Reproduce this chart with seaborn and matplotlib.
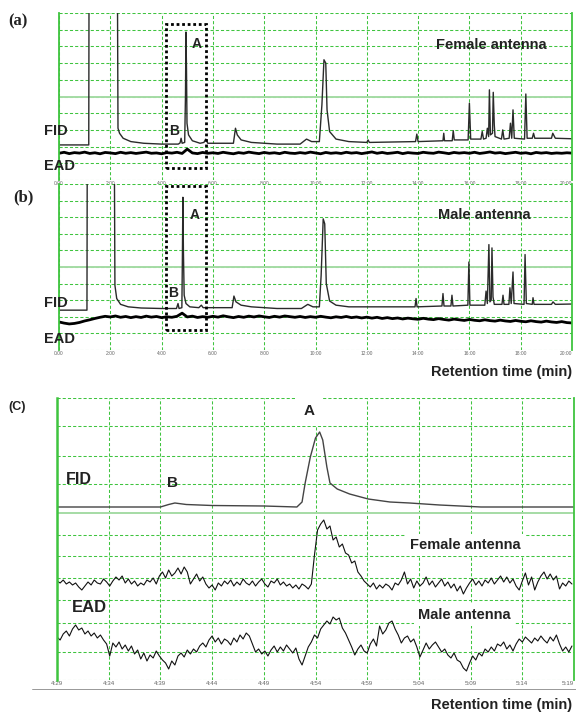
import numpy as np
import pandas as pd
import seaborn as sns
import matplotlib.pyplot as plt
from matplotlib.patches import Rectangle
from matplotlib.lines import Line2D

# ---- datos ----
# (a) antena hembra: FID (tiempo en min, senal en unidades de rejilla)
fid_a_time = [0.0, 1.16, 1.17, 2.28, 2.30, 2.36, 2.5, 2.8, 3.3, 4.0, 4.65, 4.72, 4.76, 4.80,
              4.90, 4.93, 4.95, 4.97, 4.99, 5.05, 5.2, 5.5, 5.65, 5.72, 5.8, 6.8, 6.88, 6.95,
              7.1, 7.5, 8.5, 9.4, 9.65, 9.85, 10.15, 10.25, 10.33, 10.4, 10.45, 10.55, 10.8,
              11.3, 12.0, 12.05, 12.1, 13.9, 13.95, 14.0, 14.97, 15.0, 15.03, 15.33, 15.37,
              15.41, 15.95, 16.0, 16.05, 16.45, 16.5, 16.55, 16.65, 16.7, 16.75, 16.78, 16.82,
              16.9, 16.93, 16.97, 17.0, 17.25, 17.3, 17.35, 17.55, 17.6, 17.65, 17.7, 17.75,
              18.15, 18.2, 18.25, 18.45, 18.5, 18.55, 19.2, 19.25, 19.35, 20.0]
fid_a_signal = [2.10, 2.10, 11.0, 11.0, 3.1, 2.8, 2.5, 2.3, 2.2, 2.15, 2.15, 2.22, 2.50, 2.20,
                2.25, 5.0, 8.86, 6.7, 3.4, 2.7, 2.35, 2.2, 2.25, 2.45, 2.2, 2.2, 3.1, 2.7,
                2.4, 2.25, 2.15, 2.15, 2.45, 2.3, 2.3, 4.5, 7.2, 7.0, 4.2, 2.9, 2.45,
                2.3, 2.25, 2.4, 2.25, 2.3, 2.75, 2.3, 2.35, 2.8, 2.35, 2.35, 2.95,
                2.4, 2.4, 4.6, 2.45, 2.45, 2.9, 2.45, 2.5, 3.1, 2.6, 5.4, 2.7,
                2.8, 5.25, 3.3, 2.6, 2.45, 3.0, 2.45, 2.5, 3.4, 2.5, 4.2, 2.5,
                2.45, 5.15, 2.5, 2.5, 2.8, 2.5, 2.5, 2.8, 2.5, 2.47]
# EAD (a), una muestra cada 0.2 min
ead_a_signal = [1.60, 1.66, 1.58, 1.64, 1.61, 1.67, 1.59, 1.63, 1.57, 1.65,
                1.62, 1.58, 1.66, 1.60, 1.64, 1.59, 1.63, 1.67, 1.60, 1.62,
                1.57, 1.64, 1.61, 1.66, 1.59, 1.85, 1.62, 1.58, 1.65, 1.60,
                1.63, 1.59, 1.66, 1.61, 1.57, 1.64, 1.60, 1.67, 1.62, 1.58,
                1.65, 1.60, 1.63, 1.58, 1.66, 1.61, 1.59, 1.64, 1.60, 1.67,
                1.62, 1.57, 1.65, 1.60, 1.63, 1.59, 1.66, 1.61, 1.64, 1.58,
                1.63, 1.68, 1.60, 1.65, 1.59, 1.62, 1.66, 1.58, 1.64, 1.61,
                1.59, 1.66, 1.62, 1.60, 1.67, 1.63, 1.58, 1.65, 1.61, 1.64,
                1.60, 1.66, 1.59, 1.63, 1.68, 1.61, 1.64, 1.58, 1.62, 1.66,
                1.60, 1.63, 1.57, 1.65, 1.61, 1.64, 1.59, 1.62, 1.60, 1.63, 1.61]

# (b) antena macho
fid_b_time = [0.0, 1.09, 1.10, 2.16, 2.18, 2.25, 2.4, 2.7, 3.2, 4.0, 4.58, 4.64, 4.68, 4.79,
              4.81, 4.83, 4.85, 4.88, 4.95, 5.1, 5.45, 5.55, 5.62, 6.75, 6.82, 6.9, 7.1, 7.5,
              8.5, 9.45, 9.7, 9.9, 10.15, 10.22, 10.3, 10.36, 10.42, 10.55, 10.8, 11.3, 12.0,
              13.88, 13.92, 13.96, 14.93, 14.97, 15.01, 15.28, 15.32, 15.36, 15.94, 15.98,
              16.02, 16.6, 16.65, 16.7, 16.76, 16.8, 16.85, 16.88, 16.92, 16.97, 17.27, 17.31,
              17.35, 17.54, 17.58, 17.63, 17.7, 17.74, 18.13, 18.17, 18.22, 18.45, 18.48,
              18.52, 19.2, 19.26, 19.35, 20.0]
fid_b_signal = [2.4, 2.4, 11.0, 11.0, 3.9, 3.1, 2.75, 2.6, 2.53, 2.5, 2.5, 2.8, 2.5, 2.55,
                5.5, 9.2, 6.0, 3.3, 2.8, 2.6, 2.55, 2.7, 2.55, 2.55, 3.25, 2.9, 2.7, 2.6,
                2.5, 2.5, 2.75, 2.6, 2.6, 4.5, 7.9, 7.6, 4.0, 2.95, 2.7, 2.6, 2.6,
                2.6, 3.1, 2.6, 2.65, 3.4, 2.65, 2.65, 3.3, 2.65, 2.7, 5.3,
                2.7, 2.7, 3.55, 2.8, 6.35, 2.9, 3.0, 6.15, 3.2, 2.75, 2.75, 3.3,
                2.75, 2.75, 3.75, 2.8, 4.7, 2.8, 2.75, 5.75, 2.8, 2.75, 3.15,
                2.75, 2.75, 2.9, 2.75, 2.77]
ead_b_signal = [1.69, 1.62, 1.57, 1.60, 1.66, 1.75, 1.82, 1.90, 1.97, 2.03,
                1.99, 2.05, 1.97, 2.02, 1.95, 2.01, 1.96, 2.04, 1.98, 2.02,
                1.95, 2.00, 1.97, 2.03, 2.22, 1.99, 2.04, 1.96, 2.01, 1.97,
                2.03, 1.98, 2.06, 2.00, 1.95, 2.02, 1.97, 2.04, 1.99, 2.05,
                2.00, 1.96, 2.03, 1.98, 2.05, 2.01, 1.97, 2.02, 1.96, 2.01,
                1.97, 2.03, 1.98, 1.94, 2.00, 1.96, 2.02, 1.95, 1.99, 1.93,
                1.98, 1.92, 1.97, 1.90, 1.95, 1.89, 1.93, 1.87, 1.92, 1.88,
                1.85, 1.91, 1.86, 1.83, 1.89, 1.84, 1.80, 1.86, 1.82, 1.78,
                1.84, 1.79, 1.76, 1.82, 1.77, 1.74, 1.80, 1.75, 1.72, 1.78,
                1.73, 1.70, 1.76, 1.71, 1.68, 1.74, 1.69, 1.66, 1.71, 1.65, 1.63]

# (c) ampliacion 4:29 - 5:19 (tiempo en segundos)
fid_c_time = [269, 279.0, 279.8, 280.4, 281.5, 284, 289, 292.2, 292.7, 293.0, 293.5, 294.0,
              294.4, 294.7, 295.1, 295.4, 296.1, 297.3, 299.1, 301.2, 303.1, 306, 310, 319]
fid_c_signal = [173, 173, 175.5, 177, 175.5, 174.5, 174, 173, 178, 197, 223, 242,
                248, 240, 213, 197, 191, 186, 181, 178, 177, 175, 173, 173]
# EAD (c), una muestra cada 0.3 s
ead_c_female = [99, 97, 100, 96, 98, 95, 97, 93, 90, 94,
                98, 95, 100, 97, 96, 101, 98, 94, 99, 103,
                100, 104, 97, 101, 96, 99, 94, 97, 95, 100,
                98, 102, 96, 104, 108, 102, 110, 104, 107, 112,
                106, 113, 108, 96, 101, 106, 99, 103, 96, 92,
                95, 90, 97, 94, 99, 96, 100, 94, 98, 95,
                101, 97, 95, 99, 94, 98, 101, 96, 93, 99,
                97, 101, 95, 98, 94, 96, 92, 95, 91, 96,
                94, 91, 96, 125, 150, 156, 160, 151, 154, 140,
                143, 133, 136, 127, 125, 117, 119, 108, 104, 99,
                96, 93, 97, 91, 95, 92, 96, 94, 90, 97,
                95, 100, 108, 96, 101, 92, 99, 94, 97, 103,
                95, 99, 93, 97, 101, 94, 98, 92, 96, 89,
                94, 86, 92, 97, 101, 95, 99, 94, 100, 97,
                102, 96, 100, 104, 98, 103, 97, 101, 94, 90,
                99, 107, 95, 103, 90, 98, 104, 108, 101, 106,
                100, 104, 91, 97, 94, 99, 96]
ead_c_male = [43, 40, 46, 49, 44, 51, 55, 50, 52, 46,
              49, 44, 47, 42, 45, 40, 36, 24, 37, 33,
              38, 31, 35, 29, 34, 26, 30, 21, 27, 19,
              25, 22, 29, 24, 20, 17, 11, 19, 15, 24,
              27, 23, 30, 26, 31, 28, 34, 37, 33, 40,
              44, 38, 42, 36, 41, 39, 35, 42, 38, 45,
              41, 47, 44, 36, 28, 31, 26, 29, 24, 30,
              34, 28, 33, 29, 35, 31, 27, 32, 21, 15,
              24, 33, 38, 45, 42, 51, 55, 59, 56, 63,
              60, 62, 52, 47, 40, 33, 25, 31, 35, 29,
              27, 36, 41, 34, 54, 46, 50, 57, 59, 51,
              45, 37, 42, 44, 38, 41, 33, 23, 30, 37,
              31, 35, 38, 33, 28, 31, 25, 22, 27, 20,
              18, 12, 9, 17, 24, 20, 27, 24, 31, 28,
              33, 29, 36, 34, 38, 31, 35, 29, 36, 41,
              38, 43, 40, 37, 42, 39, 44, 40, 37, 43,
              39, 45, 36, 29, 33, 28, 34]

ticks_ab = [0, 2, 4, 6, 8, 10, 12, 14, 16, 18, 20]
tick_labels_ab = ["0:00", "2:00", "4:00", "6:00", "8:00", "10:00", "12:00",
                  "14:00", "16:00", "18:00", "20:00"]
ticks_c = [269, 274, 279, 284, 289, 294, 299, 304, 309, 314, 319]
tick_labels_c = ["4:29", "4:34", "4:39", "4:44", "4:49", "4:54", "4:59",
                 "5:04", "5:09", "5:14", "5:19"]

ead_step_ab = 0.2
ead_step_c = 0.3
ead_time_ab = ead_step_ab * np.arange(len(ead_a_signal))
ead_time_c = ticks_c[0] + ead_step_c * np.arange(len(ead_c_female))

# ---- estilo ----
sns.set_style("white")
plt.rcParams['font.family'] = ['Liberation Sans', 'DejaVu Sans']

GREEN = '#3fc43f'
LIGHT = '#a5dca5'
W, H = 576, 718

fig = plt.figure(figsize=(W / 100, H / 100), dpi=100)


def px(x, y):
    return x / W, 1 - y / H


def make_axes(left, top, right, bottom):
    return fig.add_axes([left / W, 1 - bottom / H, (right - left) / W, (bottom - top) / H])


def style_panel(ax, xlim, ylim, yticks, solid_y, xticks, xlabels, fs):
    ax.set_xlim(xlim)
    ax.set_ylim(ylim)
    ax.set_xticks(xticks)
    ax.set_xticklabels(xlabels, fontsize=fs, color='#666666')
    # la ultima etiqueta se alinea a la derecha para no salirse del borde
    ax.get_xticklabels()[-1].set_horizontalalignment('right')
    ax.set_yticks(yticks)
    ax.set_yticklabels([])
    ax.tick_params(length=0, pad=1)
    ax.grid(True, color=GREEN, linestyle=(0, (3, 2)), linewidth=0.75)
    ax.axhline(solid_y, color=LIGHT, linewidth=1.4, zorder=1)
    for s in ['top', 'bottom']:
        ax.spines[s].set_visible(False)
    for s in ['left', 'right']:
        ax.spines[s].set_color(GREEN)
        ax.spines[s].set_linewidth(1.3)
    ax.set_xlabel('')
    ax.set_ylabel('')


# ---- panel (a) ----
ax_a = make_axes(59, 13, 572, 180)
sns.lineplot(x=fid_a_time, y=fid_a_signal, ax=ax_a, color='#2a2a2a', linewidth=1.0)
sns.lineplot(x=ead_time_ab, y=ead_a_signal, ax=ax_a, color='black', linewidth=2.0)
style_panel(ax_a, (0, 20), (0, 10), range(11), 5, ticks_ab, tick_labels_ab, 3.5)
ax_a.add_patch(Rectangle((4.17, 0.72), 1.56, 8.62, fill=False, linestyle=(0, (1, 1)),
                         linewidth=2, edgecolor='black', clip_on=False, zorder=5))

# ---- panel (b) ----
ax_b = make_axes(59, 184, 572, 350)
sns.lineplot(x=fid_b_time, y=fid_b_signal, ax=ax_b, color='#2a2a2a', linewidth=1.0)
sns.lineplot(x=ead_time_ab, y=ead_b_signal, ax=ax_b, color='black', linewidth=2.0)
style_panel(ax_b, (0, 20), (0, 10), range(11), 5, ticks_ab, tick_labels_ab, 3.5)
ax_b.add_patch(Rectangle((4.17, 1.2), 1.56, 8.68, fill=False, linestyle=(0, (1, 1)),
                         linewidth=2, edgecolor='black', clip_on=False, zorder=5))

# ---- panel (c) ----
ax_c = make_axes(57, 398, 574, 680)
sns.lineplot(x=fid_c_time, y=fid_c_signal, ax=ax_c, color='#444444', linewidth=1.0)
sns.lineplot(x=ead_time_c, y=ead_c_female, ax=ax_c, color='#111111', linewidth=0.8)
sns.lineplot(x=ead_time_c, y=ead_c_male, ax=ax_c, color='#111111', linewidth=0.8)
style_panel(ax_c, (269, 319), (0, 282), [0, 28, 57, 80, 102, 124, 145, 196, 224, 254, 282],
            167, ticks_c, tick_labels_c, 4.5)
ax_c.spines['left'].set_linewidth(1.8)
fig.add_artist(Line2D([32 / W, 1], [1 - 689 / H, 1 - 689 / H], color='#888888', linewidth=0.6))

# ---- textos ----
bold = dict(fontweight='bold', va='center', color='#222222')
serif = ['Liberation Serif', 'DejaVu Serif']

fig.text(*px(8, 21), "(a)", family=serif, fontsize=12, ha='left', **bold)
fig.text(*px(197, 44), "A", fontsize=10, ha='center', **bold)
fig.text(*px(174, 131), "B", fontsize=10, ha='center', **bold)
fig.text(*px(44, 131), "FID", fontsize=10.5, ha='left', **bold)
fig.text(*px(44, 166), "EAD", fontsize=10.5, ha='left', **bold)
fig.text(*px(436, 45), "Female antenna", fontsize=10.5, ha='left', **bold)

fig.text(*px(13, 197), "(b)", family=serif, fontsize=12, ha='left', **bold)
fig.text(*px(195, 215), "A", fontsize=10, ha='center', **bold)
fig.text(*px(173, 293), "B", fontsize=10, ha='center', **bold)
fig.text(*px(44, 303), "FID", fontsize=10.5, ha='left', **bold)
fig.text(*px(44, 339), "EAD", fontsize=10.5, ha='left', **bold)
fig.text(*px(438, 215), "Male antenna", fontsize=10.5, ha='left', **bold)
fig.text(*px(572, 372), "Retention time (min)", fontsize=10.5, ha='right', **bold)

white_box = dict(facecolor='white', edgecolor='none', pad=3)
fig.text(*px(8, 407), "(C)", fontsize=9, ha='left', **bold)
fig.text(*px(66, 480), "FID", fontsize=11.5, ha='left', **bold)
fig.text(*px(172, 483), "B", fontsize=11, ha='center', **bold)
fig.text(*px(309, 411), "A", fontsize=11, ha='center',
         bbox=dict(facecolor='white', edgecolor='none', pad=6), **bold)
fig.text(*px(410, 545), "Female antenna", fontsize=10.5, ha='left', bbox=white_box, **bold)
fig.text(*px(418, 615), "Male antenna", fontsize=10.5, ha='left', bbox=white_box, **bold)
fig.text(*px(72, 608), "EAD", fontsize=12, ha='left', **bold)
fig.text(*px(572, 705), "Retention time (min)", fontsize=10.5, ha='right', **bold)

fig.savefig("out.png", dpi=100)
